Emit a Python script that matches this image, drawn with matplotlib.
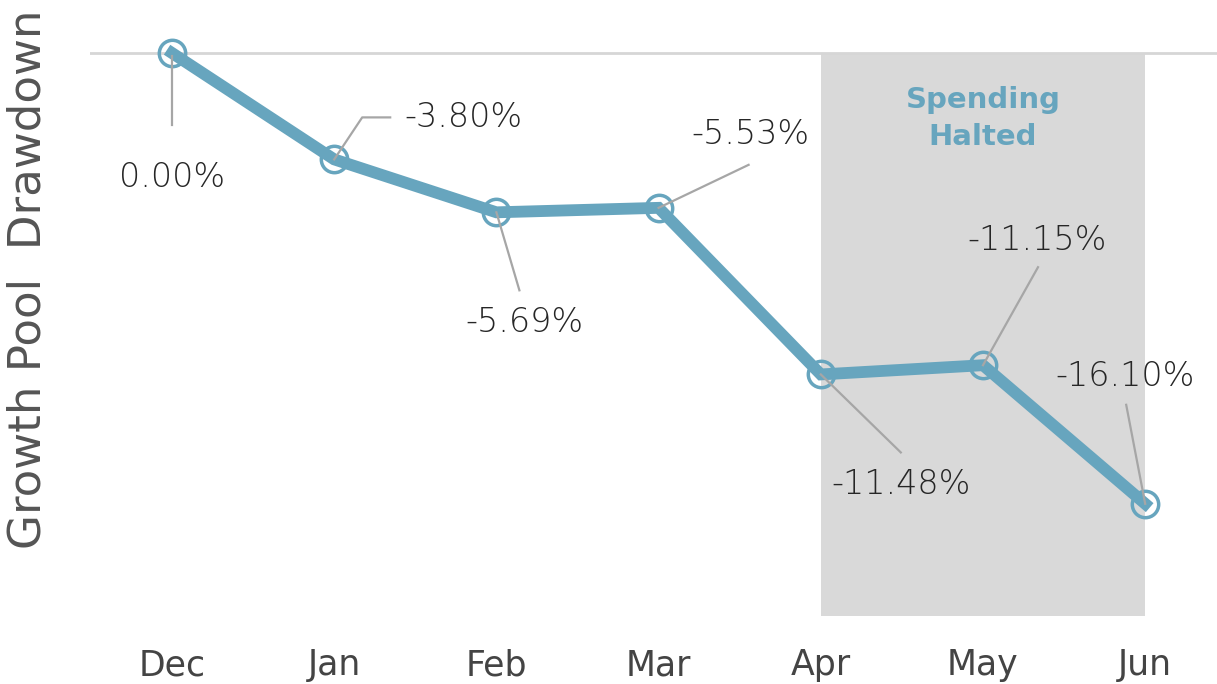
import matplotlib

matplotlib.use("Agg")
import matplotlib.pyplot as plt  # noqa: E402
import numpy as np  # noqa: E402
from matplotlib.lines import Line2D  # noqa: E402
from matplotlib.transforms import IdentityTransform  # noqa: E402

plt.rcParams["font.family"] = ["DejaVu Sans"]

MONTHS = ["Dec", "Jan", "Feb", "Mar", "Apr", "May", "Jun"]
DRAWDOWN = [0.00, -3.80, -5.69, -5.53, -11.48, -11.15, -16.10]
LABELS = ["0.00%", "-3.80%", "-5.69%", "-5.53%", "-11.48%", "-11.15%", "-16.10%"]
HALT_START, HALT_END = "Apr", "Jun"
HALT_BOTTOM = -20.1
HALT_TEXT = "Spending\nHalted"

BLUE = "#67a5be"
GREY_LINE = "#a6a6a6"
TEXT = "#262626"

# leader line vertices and label centre, as pixel offsets from each point (y up)
LEADERS = [
    [(0, -3), (0, -72)],
    [(0, 0), (28, 42), (56, 42)],
    [(0, 0), (23, -78)],
    [(0, 0), (90, 43)],
    [(0, 0), (80, -78)],
    [(0, 0), (55, 98)],
    [(0, 0), (-19, 99)],
]
LABEL_OFFSETS = [(0, -125), (129, 42), (28, -110), (92, 73), (80, -110), (54, 125), (-20, 127)]

fig = plt.figure(figsize=(12.17, 6.84), dpi=100)
ax = fig.add_axes([90 / 1217, 44 / 684, 1 - 90 / 1217, 630 / 684])

x = np.arange(len(MONTHS))
x0, step = 172, 162.2
ax.set_xlim((90 - x0) / step, (1217 - x0) / step)
ax.set_ylim(-(640 - 53) / 28.0, (53 - 10) / 28.0)

ax.fill_between(
    [MONTHS.index(HALT_START), MONTHS.index(HALT_END)], HALT_BOTTOM, 0,
    color="#d9d9d9", lw=0, zorder=0,
)
ax.axhline(0, color="#d6d6d6", lw=2, zorder=1)

ax.plot(x, DRAWDOWN, color=BLUE, lw=8.5, solid_joinstyle="miter", zorder=3)
ax.plot(
    x, DRAWDOWN, "o", ms=19, mfc="none", mec=BLUE, mew=2.5, zorder=4,
)

ax.text(
    MONTHS.index("May"), -2.35, HALT_TEXT, color=BLUE, fontsize=21,
    fontweight="bold", ha="center", va="center", linespacing=1.4,
)

for xi, yi, lead, off, lab in zip(x, DRAWDOWN, LEADERS, LABEL_OFFSETS, LABELS):
    px, py = ax.transData.transform((xi, yi))
    verts = np.array(lead, dtype=float) + [px, py]
    fig.add_artist(
        Line2D(verts[:, 0], verts[:, 1], color=GREY_LINE, lw=1.6,
               transform=IdentityTransform(), zorder=5)
    )
    ax.annotate(
        lab, xy=(xi, yi), xytext=off, textcoords="offset pixels",
        ha="center", va="center", fontsize=24, color=TEXT,
        fontweight="light",
    )

ax.set_xticks(x)
ax.set_xticklabels(MONTHS, fontsize=25, color="#444444")
ax.tick_params(axis="x", length=0, pad=6)
ax.set_yticks([])
for s in ax.spines.values():
    s.set_visible(False)

fig.text(
    28 / 1217, 1 - 279 / 684, "Growth Pool  Drawdown", rotation=90,
    ha="center", va="center", fontsize=32.5, color="#555555",
)

fig.savefig("out.png", dpi=100)
